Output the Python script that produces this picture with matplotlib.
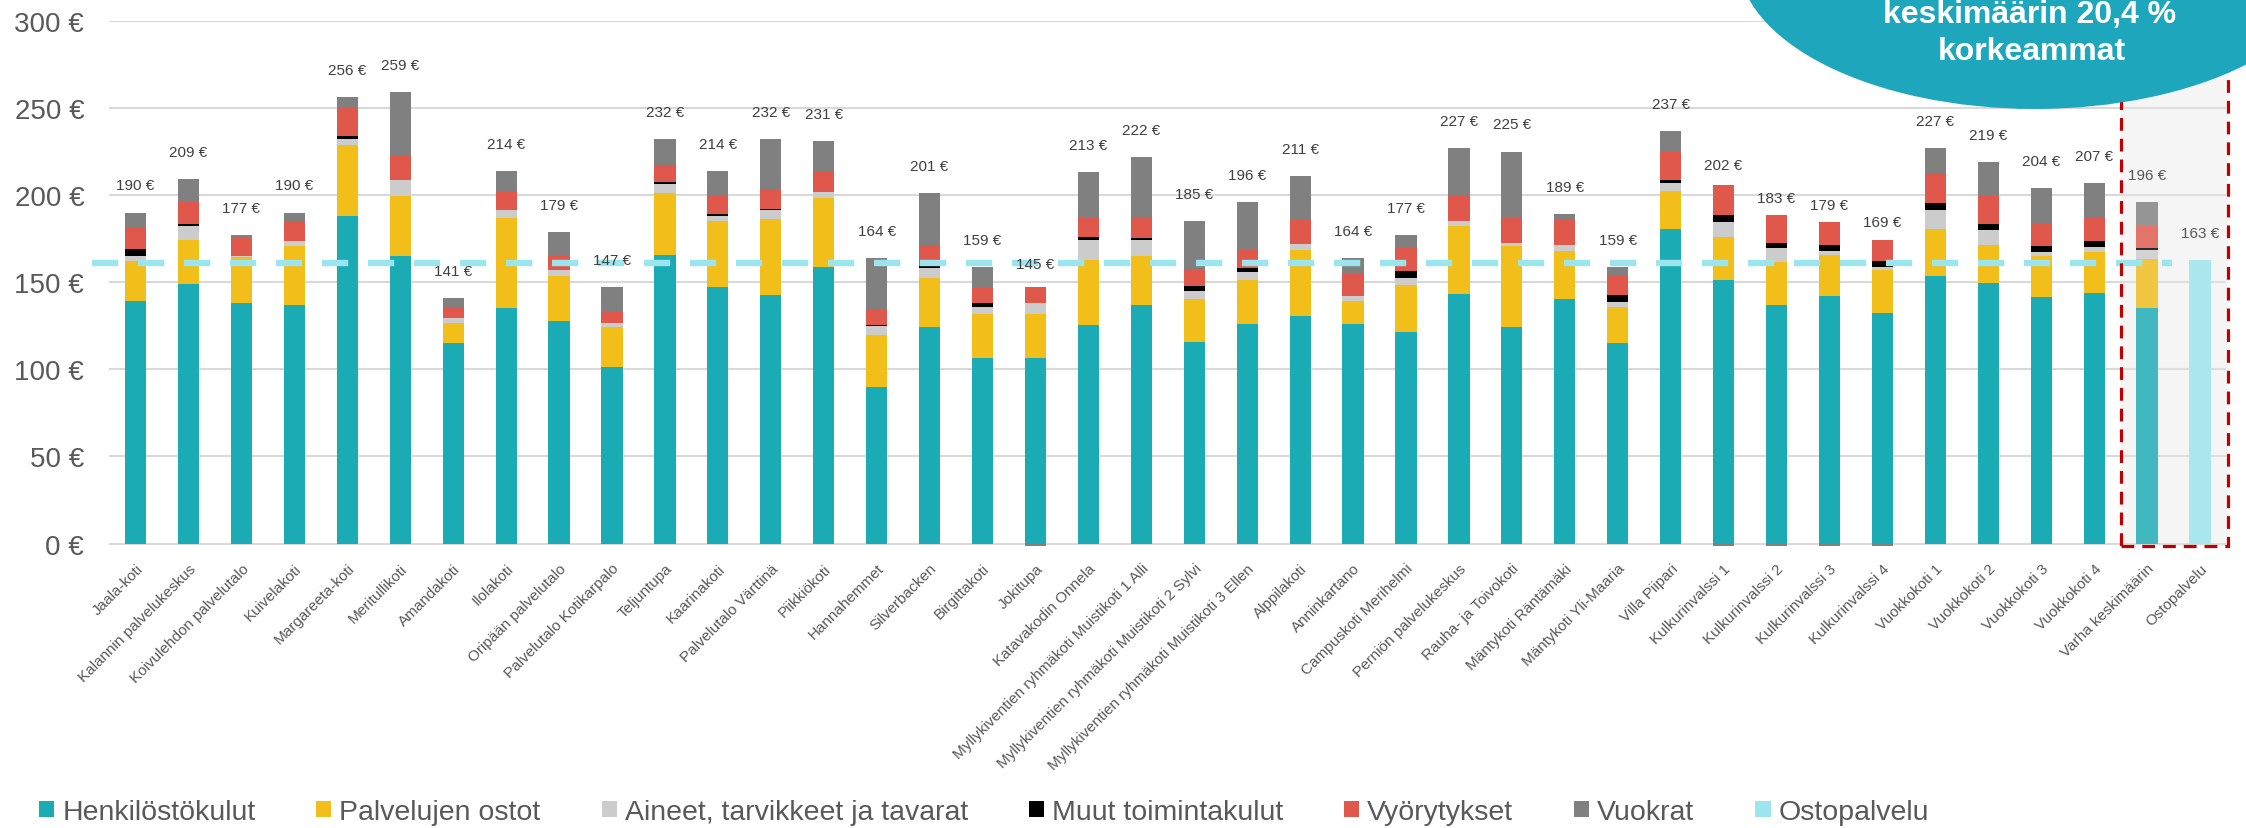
import matplotlib
matplotlib.use("Agg")
import matplotlib.pyplot as plt
from matplotlib.patches import Ellipse, Rectangle, Patch
import numpy as np

plt.rcParams['font.family'] = ['Liberation Sans', 'DejaVu Sans']

# yksiköt (x-akseli)
yksikot = ["Jaala-koti", "Kalannin palvelukeskus", "Koivulehdon palvelutalo", "Kuivelakoti",
           "Margareeta-koti", "Meritullikoti", "Amandakoti", "Ilolakoti", "Oripään palvelutalo",
           "Palvelutalo Kotikarpalo", "Teljuntupa", "Kaarinakoti", "Palvelutalo Värttinä",
           "Piikkiökoti", "Hannahemmet", "Silverbacken", "Birgittakoti", "Jokitupa",
           "Katavakodin Onnela", "Myllykiventien ryhmäkoti Muistikoti 1 Alli",
           "Myllykiventien ryhmäkoti Muistikoti 2 Sylvi", "Myllykiventien ryhmäkoti Muistikoti 3 Ellen",
           "Alppilakoti", "Anninkartano", "Campuskoti Merihelmi", "Perniön palvelukeskus",
           "Rauha- ja Toivokoti", "Mäntykoti Räntämäki", "Mäntykoti Yli-Maaria", "Villa Piipari",
           "Kulkurinvalssi 1", "Kulkurinvalssi 2", "Kulkurinvalssi 3", "Kulkurinvalssi 4",
           "Vuokkokoti 1", "Vuokkokoti 2", "Vuokkokoti 3", "Vuokkokoti 4",
           "Varha keskimäärin", "Ostopalvelu"]

# €/hoitovrk kululajeittain
henkilosto = [139, 149, 138, 137, 188, 165, 115, 135, 127.5, 101.5, 165.5, 147.5, 142.5, 159, 90,
              124.5, 106.5, 106.5, 125.5, 137, 115.5, 126, 130.7, 126, 121.7, 143, 124.5, 140.5,
              115, 180.7, 151, 137, 142, 132.5, 153.3, 149.6, 141.8, 144, 135, 0]
palvelut = [23, 25, 26.5, 34, 41, 34.5, 11.5, 52, 26, 23, 35.5, 37.5, 43.5, 39.5, 30, 28, 25, 25,
            37, 28, 25, 25, 38, 13, 26.7, 39, 46, 27.5, 20.5, 21.5, 25, 24.4, 23.6, 24.3, 27.4,
            21.7, 23.4, 23.5, 28.5, 0]
aineet = [3, 8, 0.5, 2.5, 3.3, 9, 3, 4.5, 3.5, 2, 5.5, 3, 5.5, 3.2, 5, 5.7, 4, 6.5, 12, 9, 4.7,
          4.7, 3.5, 3, 4.3, 3, 1.8, 3.5, 2.9, 5, 8.6, 8, 2.2, 2, 11, 8.8, 2, 2.9, 4.7, 0]
muut = [4, 1.5, 0, 0, 1.8, 0, 0, 0, 0, 0, 0.8, 1.2, 0.6, 0, 0.6, 1, 2.7, 0, 1.4, 1.4, 2.4, 2.3,
        0, 0, 3.7, 0, 0, 0, 4.5, 1.6, 3.7, 3, 3.5, 3.1, 3.7, 3.3, 3.5, 3.1, 1.7, 0]
vyorytykset = [12, 12.5, 10.5, 11, 15.6, 14, 6, 11, 8, 6.5, 10, 10.5, 11, 11.7, 8.2, 11.3, 8.8,
               9.3, 11, 12, 9.4, 10.4, 14, 13, 13, 15, 14.7, 14, 11.3, 16.6, 17.2, 16.2, 13.3,
               12.5, 17.4, 16, 13, 13.7, 12.1, 0]
vuokrat = [9, 13, 1.5, 5.5, 6.3, 36.5, 5.5, 11.5, 14, 14, 14.7, 14.3, 28.9, 17.6, 30.2, 30.5, 12,
           -2.3, 26.1, 34.6, 28, 27.6, 24.8, 9, 7.6, 27, 38, 3.5, 4.8, 11.6, -3.5, -5.6, -5.6,
           -5.4, 14.2, 19.6, 20.3, 19.8, 14, 0]
ostopalvelu = [0] * 39 + [163]

# arvolaput (yhteensä)
yhteensa = [190, 209, 177, 190, 256, 259, 141, 214, 179, 147, 232, 214, 232, 231, 164, 201, 159,
            145, 213, 222, 185, 196, 211, 164, 177, 227, 225, 189, 159, 237, 202, 183, 179, 169,
            227, 219, 204, 207, 196, 163]
ostopalvelu_taso = 161

sarjat = ["Henkilöstökulut", "Palvelujen ostot", "Aineet, tarvikkeet ja tavarat",
          "Muut toimintakulut", "Vyörytykset", "Vuokrat", "Ostopalvelu"]
arvot = [henkilosto, palvelut, aineet, muut, vyorytykset, vuokrat, ostopalvelu]
varit = ["#1aabb5", "#f1be1a", "#cccccc", "#000000", "#e0584b", "#808080", "#9be5ee"]

fig = plt.figure(figsize=(22.46, 8.29), dpi=100)
ax = fig.add_axes([0.0486, 0.3405, 0.9427, 0.6332])

x = np.arange(len(yksikot))
pos = np.zeros(len(x))
neg = np.zeros(len(x))
for nimi, arvo, vari in zip(sarjat, arvot, varit):
    a = np.array(arvo, dtype=float)
    pohja = np.where(a >= 0, pos, neg)
    ax.bar(x, a, 0.40, bottom=pohja, color=vari, label=nimi, zorder=2)
    pos = pos + np.where(a >= 0, a, 0)
    neg = neg + np.where(a < 0, a, 0)

for i, t in enumerate(yhteensa):
    c = "#595959" if i >= 38 else "#404040"
    ax.text(x[i], t + 15.5, f"{t} €", ha="center", va="center", fontsize=11, color=c, zorder=4)

# ostopalvelun taso katkoviivana
ax.plot([-0.82, 38.47], [ostopalvelu_taso] * 2, color="#9be5ee", lw=4.6,
        dashes=(4.1, 3.1), solid_capstyle="butt", dash_capstyle="butt", zorder=3, clip_on=False)

# korostuslaatikko
ax.add_patch(Rectangle((37.5, -1.2), 2.03, 276, facecolor="#f5f5f5", edgecolor="none",
                       zorder=0.4, clip_on=False))
ax.add_patch(Rectangle((37.5, -1.2), 2.03, 276, facecolor="#f5f5f5", edgecolor="none",
                       alpha=0.18, zorder=2.5, clip_on=False))
ax.add_patch(Rectangle((37.5, -1.2), 2.03, 276, facecolor="none", edgecolor="#c00000",
                       lw=2.3, linestyle=(0, (4, 2.5)), zorder=3.5, clip_on=False))

ax.set_xlim(-0.5, 39.5)
ax.set_ylim(-1.2, 300)
ax.set_yticks(range(0, 301, 50))
ax.set_yticklabels([f"{v} €" for v in range(0, 301, 50)], fontsize=20, color="#595959")
ax.set_xticks(x)
ax.set_xticklabels(yksikot, rotation=45, ha="right", rotation_mode="anchor",
                   fontsize=11, color="#595959")
ax.tick_params(axis="x", length=0, pad=11)
ax.tick_params(axis="y", length=0, pad=18)
ax.grid(axis="y", color="#d9d9d9", lw=1.5)
ax.set_axisbelow(True)
for s in ax.spines.values():
    s.set_visible(False)

kahvat = [Patch(facecolor=v, edgecolor="none") for v in varit]
fig.legend(kahvat, sarjat, loc="center left", bbox_to_anchor=(0.0174, 0.0193), ncol=7,
           frameon=False, fontsize=20.5, labelcolor="#595959", handlelength=0.53,
           handleheight=0.53, handletextpad=0.28, columnspacing=2.14, borderpad=0,
           borderaxespad=0)

# puhekupla
fig.add_artist(Ellipse((0.9061, 1.0483), 0.2645, 0.3619, transform=fig.transFigure,
                       facecolor="#1ea6bd", edgecolor="none", zorder=10, clip_on=False))
fig.text(0.9035, 0.9819, "keskimäärin 20,4 %", ha="center", va="center", fontsize=23,
         fontweight="bold", color="white", zorder=11)
fig.text(0.9045, 0.9373, "korkeammat", ha="center", va="center", fontsize=23,
         fontweight="bold", color="white", zorder=11)

fig.savefig("out.png", dpi=100)
